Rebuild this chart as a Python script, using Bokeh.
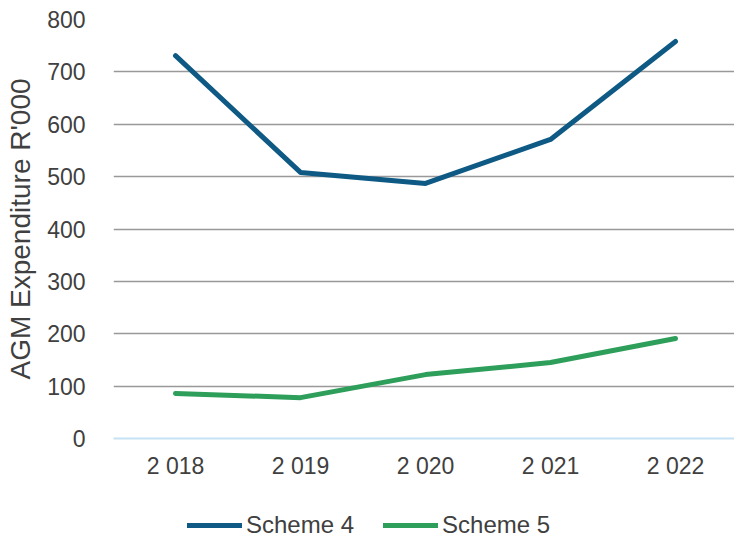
from bokeh.plotting import figure
from bokeh.layouts import column
from bokeh.models import Range1d, FixedTicker, Legend, LegendItem
from bokeh.embed import file_html
from bokeh.resources import INLINE

years = ["2 018", "2 019", "2 020", "2 021", "2 022"]
scheme4 = [731, 508, 487, 571, 758]
scheme5 = [86, 78, 122, 145, 191]
y_ticks = [0, 100, 200, 300, 400, 500, 600, 700, 800]
series_names = ["Scheme 4", "Scheme 5"]
series_colors = ["#0E5A84", "#2E9E5B"]

xs = list(range(len(years)))

font = "Liberation Sans"
tick_color = "#404040"

p = figure(width=734, height=508, output_backend="svg", toolbar_location=None,
           x_range=Range1d(-0.496, 4.472), y_range=Range1d(0, 800),
           min_border_top=19, min_border_right=0, min_border_left=113,
           min_border_bottom=70)
p.outline_line_color = None
p.background_fill_color = "white"
p.border_fill_color = "white"

p.xaxis.ticker = FixedTicker(ticks=xs)
p.xaxis.major_label_overrides = {i: y for i, y in enumerate(years)}
p.xaxis.axis_line_color = "#C6E2F4"
p.xaxis.axis_line_width = 2
p.xaxis.major_tick_line_color = None
p.xaxis.minor_tick_line_color = None
p.xaxis.major_label_text_font = font
p.xaxis.major_label_text_font_size = "23px"
p.xaxis.major_label_text_color = tick_color
p.xaxis.major_label_standoff = 8

p.yaxis.ticker = FixedTicker(ticks=y_ticks)
p.yaxis.axis_line_color = None
p.yaxis.major_tick_line_color = None
p.yaxis.minor_tick_line_color = None
p.yaxis.major_label_text_font = font
p.yaxis.major_label_text_font_size = "23px"
p.yaxis.major_label_text_color = tick_color
p.yaxis.major_label_standoff = 22
p.yaxis.axis_label = "AGM Expenditure R'000"
p.yaxis.axis_label_text_font = font
p.yaxis.axis_label_text_font_size = "28px"
p.yaxis.axis_label_text_font_style = "normal"
p.yaxis.axis_label_text_color = tick_color
p.yaxis.axis_label_standoff = 8

p.xgrid.grid_line_color = None
p.ygrid.ticker = FixedTicker(ticks=y_ticks[1:])
p.ygrid.grid_line_color = "#999999"
p.ygrid.grid_line_width = 1.6

p.line(xs, scheme4, line_color=series_colors[0], line_width=5, line_cap="round", line_join="round")
p.line(xs, scheme5, line_color=series_colors[1], line_width=5, line_cap="round", line_join="round")

# legend strip below the chart
lg = figure(width=734, height=31, output_backend="svg", toolbar_location=None,
            x_axis_type=None, y_axis_type=None, x_range=Range1d(0, 1), y_range=Range1d(0, 1),
            min_border_left=113, min_border_right=0, min_border_top=0, min_border_bottom=0)
lg.outline_line_color = None
lg.xgrid.grid_line_color = None
lg.ygrid.grid_line_color = None
items = []
for name, col in zip(series_names, series_colors):
    r = lg.line([float("nan")], [float("nan")], line_color=col, line_width=5, line_cap="round")
    items.append(LegendItem(label=name, renderers=[r]))

legend = Legend(items=items, orientation="horizontal", location=(74, 0))
legend.label_text_font = font
legend.label_text_font_size = "24px"
legend.label_text_color = tick_color
legend.glyph_width = 55
legend.glyph_height = 20
legend.label_standoff = 4
legend.spacing = 29
legend.padding = 0
legend.margin = 0
legend.border_line_color = None
legend.background_fill_alpha = 0
lg.add_layout(legend, "center")

layout = column(p, lg, spacing=0)
open("out.html", "w").write(file_html(layout, INLINE))
